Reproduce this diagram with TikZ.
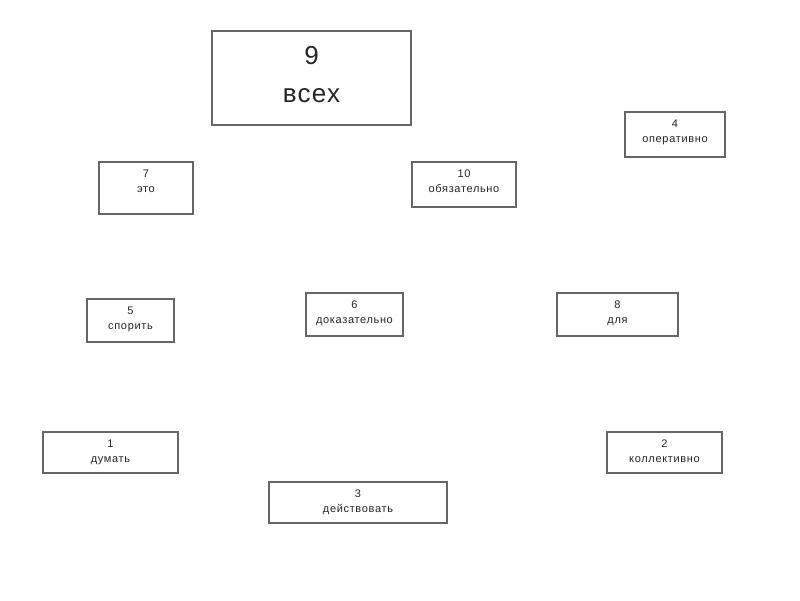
\documentclass[tikz,border=0pt]{standalone}
\usepackage{fontspec}
\setmainfont{Liberation Sans}
\begin{document}
\begin{tikzpicture}[x=1pt,y=-1pt,
  box/.style={draw=black!60, line width=1.2pt, rectangle, inner sep=0pt},
  lbl/.style={inner sep=0pt, align=center, text=black!85, anchor=north,
    font=\fontsize{11}{15}\selectfont\addfontfeature{LetterSpace=6}},
  biglbl/.style={inner sep=0pt, align=center, text=black!85, anchor=north,
    font=\fontsize{26}{38}\selectfont\addfontfeature{LetterSpace=5}}]
\useasboundingbox[fill=white] (0,0) rectangle (800,600);
\newcommand\mybox[7]{%
  \node[box, minimum width={(#4-#2)*1pt}, minimum height={(#5-#3)*1pt}]
    (#1) at ({(#2+#4)/2},{(#3+#5)/2}) {};
  \node[lbl] (#1t) at ([yshift=-8pt]#1.north) {#6\\#7};}
% big box
\node[box, minimum width=199pt, minimum height=94pt] (b9) at (311.5,78) {};
\node[biglbl] (b9t) at ([yshift=-16pt]b9.north) {9\\всех};
\mybox{b4}{625}{112}{725}{157}{4}{оперативно}
\mybox{b7}{99}{162}{193}{214}{7}{это}
\mybox{b10}{412}{162}{516}{207}{10}{обязательно}
\mybox{b5}{87}{299}{174}{342}{5}{спорить}
\mybox{b6}{306}{293}{403}{336}{6}{доказательно}
\mybox{b8}{557}{293}{678}{336}{8}{для}
\mybox{b1}{43}{432}{178}{473}{1}{думать}
\mybox{b2}{607}{432}{722}{473}{2}{коллективно}
\mybox{b3}{269}{482}{447}{523}{3}{действовать}
\end{tikzpicture}
\end{document}
